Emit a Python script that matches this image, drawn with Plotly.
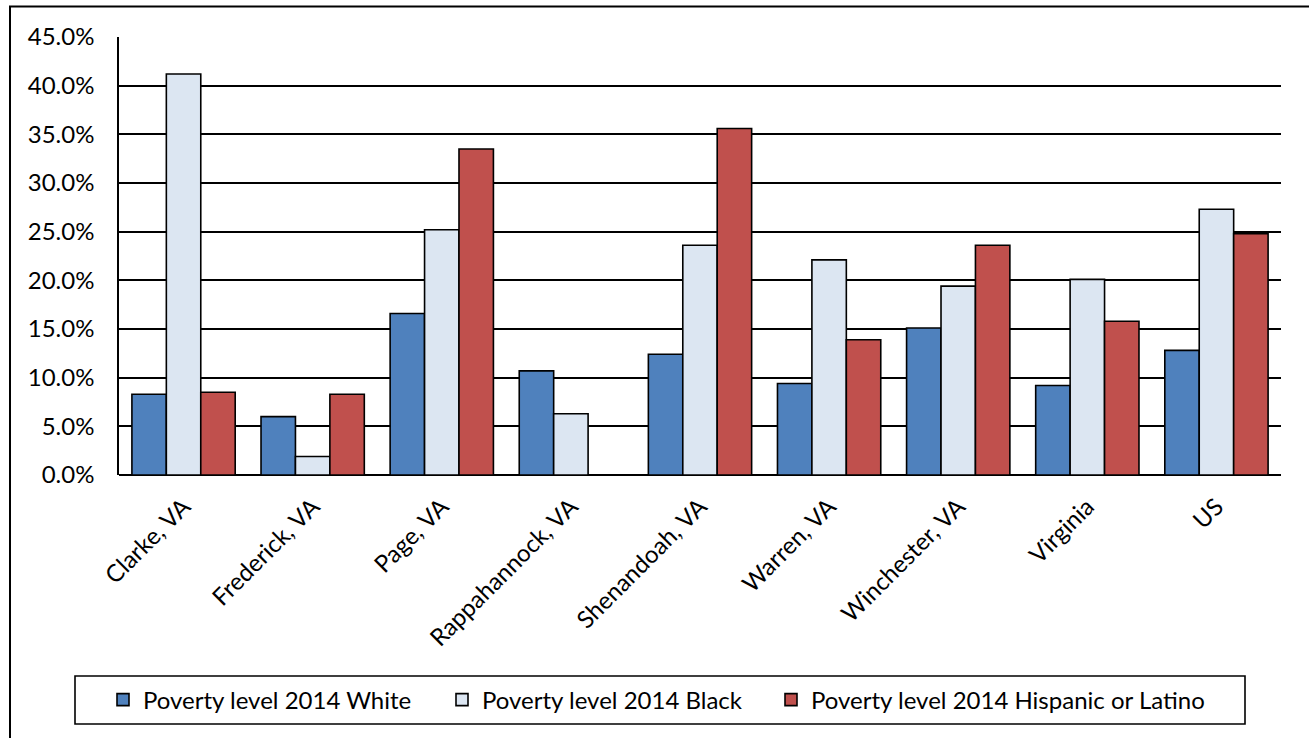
import plotly.graph_objects as go

# Poverty rates by race/ethnicity, 2014 (percent)
areas = ["Clarke, VA", "Frederick, VA", "Page, VA", "Rappahannock, VA",
         "Shenandoah, VA", "Warren, VA", "Winchester, VA", "Virginia", "US"]
white = [8.3, 6.0, 16.6, 10.7, 12.4, 9.4, 15.1, 9.2, 12.8]
black = [41.2, 1.9, 25.2, 6.3, 23.6, 22.1, 19.4, 20.1, 27.3]
hispanic = [8.5, 8.3, 33.5, 0.0, 35.6, 13.9, 23.6, 15.8, 24.8]

series = [
    ("Poverty level 2014 White", white, "#4F81BD"),
    ("Poverty level 2014 Black", black, "#DCE6F2"),
    ("Poverty level 2014 Hispanic or Latino", hispanic, "#C0504D"),
]

FONT = "Lato"
FS = 24
W, H = 1309, 738
L, R, T, B = 119, 28, 37, 263
pw, ph = W - L - R, H - T - B


def px_x(x):
    return (x - L) / pw


def px_y(y):
    return (H - B - y) / ph


# each series gets its own legend so the entries can be spaced out
legend_ids = ["legend", "legend2", "legend3"]
legend_left = [103, 442, 771]

fig = go.Figure()
for (name, vals, color), lid in zip(series, legend_ids):
    fig.add_trace(go.Bar(
        name=name, x=areas, y=vals, legend=lid,
        marker=dict(color=color, line=dict(color="#000000", width=1.6)),
    ))

legend_style = {}
for lid, left in zip(legend_ids, legend_left):
    legend_style[lid] = dict(
        orientation="h", x=px_x(left), xanchor="left",
        y=px_y(700), yanchor="middle",
        font=dict(family=FONT, size=FS, color="#000000"),
        bgcolor="rgba(0,0,0,0)", borderwidth=0,
        itemclick=False, itemdoubleclick=False,
    )

fig.update_layout(
    width=W, height=H,
    margin=dict(l=L, r=R, t=T, b=B, pad=0),
    paper_bgcolor="white", plot_bgcolor="white",
    barmode="group", bargap=0.2, bargroupgap=0,
    font=dict(family=FONT, size=FS, color="#000000"),
    showlegend=True,
    **legend_style,
    xaxis=dict(
        showgrid=False, showline=False, zeroline=False,
        tickangle=-45, ticks="", ticklabelstandoff=12,
        tickfont=dict(family=FONT, size=FS),
        fixedrange=True,
    ),
    yaxis=dict(
        range=[0, 45], dtick=5, tickformat=".1f", ticksuffix="%",
        showgrid=True, gridcolor="#000000", gridwidth=1.6,
        showline=True, linecolor="#000000", linewidth=1.6,
        zeroline=True, zerolinecolor="#000000", zerolinewidth=1.6,
        ticks="", ticklabelstandoff=18,
        tickfont=dict(family=FONT, size=FS),
        fixedrange=True,
    ),
    shapes=[
        # outer chart frame
        dict(type="rect", xref="paper", yref="paper",
             x0=px_x(10), x1=px_x(1330), y0=px_y(760), y1=px_y(6.5),
             line=dict(color="#000000", width=2), fillcolor="rgba(0,0,0,0)",
             layer="above"),
        # legend frame
        dict(type="rect", xref="paper", yref="paper",
             x0=px_x(75), x1=px_x(1245), y0=px_y(724), y1=px_y(676),
             line=dict(color="#000000", width=1.6), fillcolor="rgba(0,0,0,0)",
             layer="above"),
    ],
)

fig.write_html("out.html", config={"displayModeBar": False})
